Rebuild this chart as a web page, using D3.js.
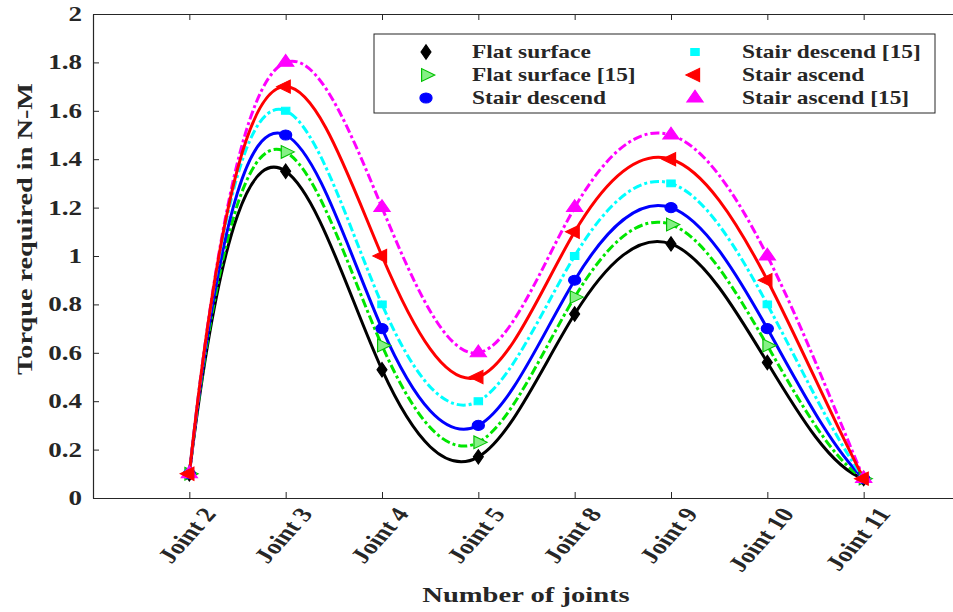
<!DOCTYPE html>
<html>
<head>
<meta charset="utf-8">
<script src="https://cdn.jsdelivr.net/npm/d3@7"></script>
<style>
  body { margin: 0; background: #fff; }
  text { font-family: "Liberation Serif", "Times New Roman", serif; font-weight: bold; fill: #262626; }
</style>
</head>
<body>
<svg id="chart"></svg>
<script>
const joints = ["Joint 2", "Joint 3", "Joint 4", "Joint 5", "Joint 8", "Joint 9", "Joint 10", "Joint 11"];
const flatSurface     = [0.10, 1.35, 0.53, 0.17, 0.76, 1.05, 0.56, 0.08];
const flatSurface15   = [0.10, 1.43, 0.63, 0.23, 0.83, 1.13, 0.63, 0.08];
const stairDescend    = [0.10, 1.50, 0.70, 0.30, 0.90, 1.20, 0.70, 0.08];
const stairDescend15  = [0.10, 1.60, 0.80, 0.40, 1.00, 1.30, 0.80, 0.08];
const stairAscend     = [0.10, 1.70, 1.00, 0.50, 1.10, 1.40, 0.90, 0.08];
const stairAscend15   = [0.10, 1.80, 1.20, 0.60, 1.20, 1.50, 1.00, 0.08];
const yTicks = [0, 0.2, 0.4, 0.6, 0.8, 1, 1.2, 1.4, 1.6, 1.8, 2];

// cubic spline with "not-a-knot" ends (like matlab spline), as a d3 curve
function curveNotAKnot(context) {
  let xs, ys;
  return {
    areaStart() {}, areaEnd() {},
    lineStart() { xs = []; ys = []; },
    point(x, y) { xs.push(+x); ys.push(+y); },
    lineEnd() {
      const n = xs.length;
      if (n < 4) {
        context.moveTo(xs[0], ys[0]);
        for (let i = 1; i < n; i++) context.lineTo(xs[i], ys[i]);
        return;
      }
      // second derivatives, index units (uniform spacing)
      const A = [], b = [];
      for (let i = 0; i < n; i++) { A.push(new Array(n).fill(0)); b.push(0); }
      A[0][0] = 1; A[0][1] = -2; A[0][2] = 1;
      for (let i = 1; i < n - 1; i++) {
        A[i][i - 1] = 1; A[i][i] = 4; A[i][i + 1] = 1;
        b[i] = 6 * (ys[i + 1] - 2 * ys[i] + ys[i - 1]);
      }
      A[n - 1][n - 3] = 1; A[n - 1][n - 2] = -2; A[n - 1][n - 1] = 1;
      // gaussian elimination with pivoting
      for (let c = 0; c < n; c++) {
        let p = c;
        for (let r = c + 1; r < n; r++) if (Math.abs(A[r][c]) > Math.abs(A[p][c])) p = r;
        [A[c], A[p]] = [A[p], A[c]]; [b[c], b[p]] = [b[p], b[c]];
        for (let r = c + 1; r < n; r++) {
          const f = A[r][c] / A[c][c];
          for (let k = c; k < n; k++) A[r][k] -= f * A[c][k];
          b[r] -= f * b[c];
        }
      }
      const M = new Array(n).fill(0);
      for (let r = n - 1; r >= 0; r--) {
        let s = b[r];
        for (let k = r + 1; k < n; k++) s -= A[r][k] * M[k];
        M[r] = s / A[r][r];
      }
      context.moveTo(xs[0], ys[0]);
      for (let i = 0; i < n - 1; i++) {
        const d = ys[i + 1] - ys[i];
        const m0 = d - (2 * M[i] + M[i + 1]) / 6;
        const m1 = d + (M[i] + 2 * M[i + 1]) / 6;
        const dx = (xs[i + 1] - xs[i]) / 3;
        context.bezierCurveTo(xs[i] + dx, ys[i] + m0 / 3, xs[i + 1] - dx, ys[i + 1] - m1 / 3, xs[i + 1], ys[i + 1]);
      }
    }
  };
}

(function () {
  const width = 953, height = 612;
  const stretch = 1.3; // glyphs in the source are wide

  const svg = d3.select("#chart")
    .attr("width", width)
    .attr("height", height)
    .style("background", "#fff");

  const x = d3.scaleLinear().domain([-1, 8]).range([93, 960]);
  const y = d3.scaleLinear().domain([0, 2]).range([498, 14]);

  const dashDot = "9,3,3,3";
  const series = [
    { name: "Flat surface", values: flatSurface, color: "#000000", dash: null,
      symbol: d3.symbolDiamond, size: 60, rot: 0, fill: "#000000", stroke: "#000000" },
    { name: "Flat surface [15]", values: flatSurface15, color: "#00e600", dash: dashDot,
      symbol: d3.symbolTriangle, size: 70, rot: 90, fill: "#86f086", stroke: "#00c000" },
    { name: "Stair descend", values: stairDescend, color: "#0000ff", dash: null,
      symbol: d3.symbolCircle, size: 80, rot: 0, fill: "#0000ff", stroke: "#0000ff" },
    { name: "Stair descend [15]", values: stairDescend15, color: "#00ffff", dash: dashDot,
      symbol: d3.symbolSquare, size: 48, rot: 0, fill: "#00ffff", stroke: "#00ffff" },
    { name: "Stair ascend", values: stairAscend, color: "#ff0000", dash: null,
      symbol: d3.symbolTriangle, size: 75, rot: -90, fill: "#ff0000", stroke: "#ff0000" },
    { name: "Stair ascend [15]", values: stairAscend15, color: "#ff00ff", dash: dashDot,
      symbol: d3.symbolTriangle, size: 80, rot: 0, fill: "#ff00ff", stroke: "#ff00ff" }
  ];
  const drawOrder = [0, 1, 2, 3, 5, 4];

  // axes box
  const axisColor = "#262626";
  const gx = svg.append("g").attr("transform", `translate(0,${y(0)})`)
    .call(d3.axisBottom(x).tickValues(d3.range(joints.length)).tickSizeInner(-6).tickSizeOuter(0).tickFormat(""));
  const gxTop = svg.append("g").attr("transform", `translate(0,${y(2)})`)
    .call(d3.axisTop(x).tickValues(d3.range(joints.length)).tickSizeInner(-6).tickSizeOuter(0).tickFormat(""));
  const gy = svg.append("g").attr("transform", `translate(${x(-1)},0)`)
    .call(d3.axisLeft(y).tickValues(yTicks).tickSizeInner(-6).tickSizeOuter(0).tickFormat(""));
  [gx, gxTop, gy].forEach(g => {
    g.select(".domain").attr("stroke", axisColor).attr("stroke-width", 1.2);
    g.selectAll(".tick line").attr("stroke", axisColor).attr("stroke-width", 1);
  });

  // y tick labels
  svg.append("g").selectAll("text")
    .data(yTicks)
    .join("text")
    .attr("transform", d => `translate(82,${y(d)}) scale(1.35,1)`)
    .attr("text-anchor", "end")
    .attr("dy", "0.35em")
    .attr("font-size", 20)
    .text(d => String(+d.toFixed(1)));

  // x tick labels, rotated then widened like the source
  svg.append("g").selectAll("text")
    .data(joints)
    .join("text")
    .attr("transform", (d, i) => `translate(${x(i) + 20},${y(0) + 12}) scale(${stretch},1) rotate(-55)`)
    .attr("text-anchor", "end")
    .attr("dy", "0.35em")
    .attr("font-size", 21)
    .text(d => d);

  // axis titles
  svg.append("text")
    .attr("transform", `translate(32,229) rotate(-90)`)
    .attr("text-anchor", "middle")
    .attr("font-size", 22)
    .attr("textLength", 292)
    .attr("lengthAdjust", "spacingAndGlyphs")
    .text("Torque required in N-M");

  svg.append("text")
    .attr("transform", `translate(526,602) scale(${stretch},1)`)
    .attr("text-anchor", "middle")
    .attr("font-size", 22)
    .text("Number of joints");

  // curves
  const line = d3.line()
    .x((d, i) => x(i))
    .y(d => y(d))
    .curve(curveNotAKnot);

  const plot = svg.append("g");
  drawOrder.forEach(k => {
    const s = series[k];
    plot.append("path")
      .datum(s.values)
      .attr("fill", "none")
      .attr("stroke", s.color)
      .attr("stroke-width", 3)
      .attr("stroke-dasharray", s.dash)
      .attr("d", line);
  });

  function marker(sel, s) {
    sel.append("path")
      .attr("d", d3.symbol().type(s.symbol).size(s.size)())
      .attr("fill", s.fill)
      .attr("stroke", s.stroke)
      .attr("stroke-width", 1)
      .attr("transform", `scale(1.2,1) rotate(${s.rot})`);
  }

  drawOrder.forEach(k => {
    const s = series[k];
    plot.append("g").selectAll("g")
      .data(s.values)
      .join("g")
      .attr("transform", (d, i) => `translate(${x(i)},${y(d)})`)
      .each(function () { marker(d3.select(this), s); });
  });

  // legend
  const legend = svg.append("g");
  legend.append("rect")
    .attr("x", 374).attr("y", 34)
    .attr("width", 561).attr("height", 79)
    .attr("fill", "#fff")
    .attr("stroke", axisColor)
    .attr("stroke-width", 1);

  const colX = [[426, 472], [695, 742]];
  const rowY = [52, 75, 98];
  series.forEach((s, i) => {
    const col = Math.floor(i / 3), row = i % 3;
    const g = legend.append("g");
    g.append("g")
      .attr("transform", `translate(${colX[col][0]},${rowY[row]})`)
      .call(sel => marker(sel, s));
    g.append("text")
      .attr("transform", `translate(${colX[col][1]},${rowY[row] + 6}) scale(${stretch},1)`)
      .attr("font-size", 18)
      .text(s.name);
  });
})();
</script>
</body>
</html>
